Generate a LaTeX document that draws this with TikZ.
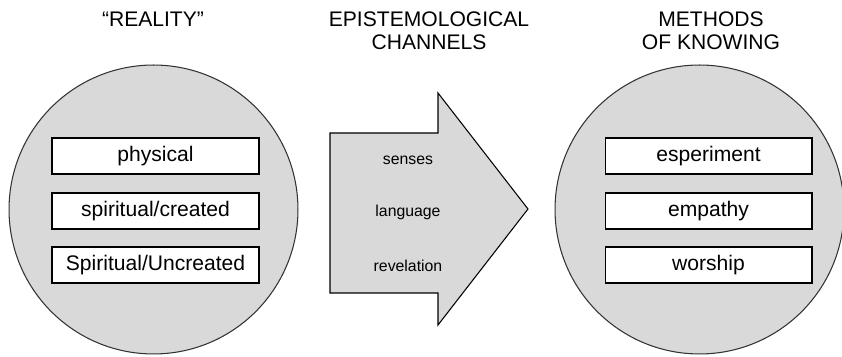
\documentclass[tikz,border=0pt]{standalone}
\usepackage{fontspec}
\setmainfont{Liberation Sans}
\usepackage{tikz}

\definecolor{lightgrey}{HTML}{D9D9D9}
\tikzset{
    title/.style={align=center, font=\fontsize{12}{13}\selectfont},
    world/.style={circle, draw=black!80, line width=0.6pt, fill=lightgrey, minimum size=5.78cm, inner sep=0pt},
    item/.style={draw, line width=0.6pt, fill=white, minimum width=4.14cm, minimum height=0.72cm, inner sep=0pt, font=\fontsize{12}{14}\selectfont},
    channel/.style={font=\fontsize{9}{11}\selectfont}
}

\begin{document}
\begin{tikzpicture}[x=0.02cm, y=-0.02cm]
            \useasboundingbox (0,0) rectangle (842,357);
            \node[title] (realtitle) at (153,19) {“REALITY”};
            \node[title] (chantitle) at (429,31) {EPISTEMOLOGICAL\\CHANNELS};
            \node[title] (methtitle) at (711,31) {METHODS\\OF KNOWING};
            \node[world] (reality) at (153.5,209.5) {};
            \node[world] (methods) at (699.5,209.5) {};
            \draw[line width=0.6pt, fill=lightgrey] (330,133) -- (438,133) -- (438,93) -- (528,209)
                -- (438,325) -- (438,293) -- (330,293) -- cycle;
            \node[item] (physical) at (155.5,156) {physical};
            \node[item] (created) at (155.5,211) {spiritual/created};
            \node[item] (uncreated) at (155.5,265) {Spiritual/Uncreated};
            \node[item] (experiment) at (708.5,156) {esperiment};
            \node[item] (empathy) at (708.5,211) {empathy};
            \node[item] (worship) at (708.5,265) {worship};
            \foreach \t/\y [count=\i] in {senses/160, language/212, revelation/266}
                \node[channel] (chan\i) at (408,\y) {\t};
        \end{tikzpicture}
\end{document}
